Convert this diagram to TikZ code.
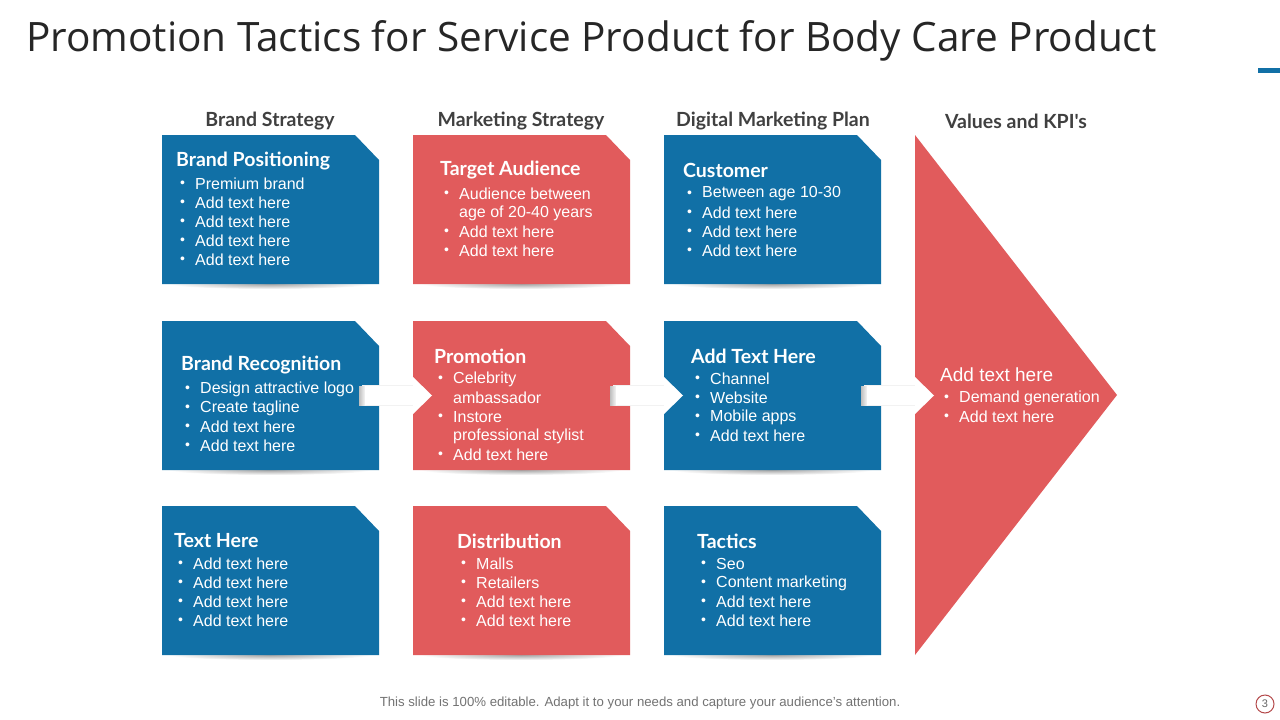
\documentclass[tikz,border=0pt]{standalone}
\usepackage{fontspec}
\setmainfont{Liberation Sans}
\newfontfamily\headfont{Lato}
\newfontfamily\titlefont{Open Sans}
\definecolor{blueC}{RGB}{17,112,166}
\definecolor{redC}{RGB}{225,91,92}
\definecolor{hdgray}{RGB}{64,64,64}
\tikzset{
  ttl/.style={font=\headfont\bfseries\fontsize{19.5}{19.5}\selectfont, text=white, anchor=west, inner sep=0pt},
  itm/.style={font=\fontsize{16}{16}\selectfont, text=white, anchor=west, inner sep=0pt},
  bul/.style={font=\fontsize{14}{14}\selectfont, text=white, anchor=west, inner sep=0pt},
  colhead/.style={font=\headfont\bfseries\fontsize{19.5}{19.5}\selectfont, text=hdgray, inner sep=0pt},
  conn/.style={fill=white, draw=none},
}
\newcommand\cardshape[3]{%
  \shade[inner color=black!35, outer color=white] (#1+108,#2+149) ellipse [x radius=100, y radius=5];
  \fill[#3] (#1,#2) -- (#1+193,#2) -- (#1+217,#2+25) -- (#1+217,#2+149) -- (#1,#2+149) -- cycle;}
\newcommand\bitem[4]{%
  \node[bul] (#1b) at (#2,#3) {•};
  \node[itm] (#1) at (#2+15,#3) {#4};}
\newcommand\citem[4]{\node[itm] (#1) at (#2+15,#3) {#4};}
\newcommand\connector[2]{%
  \fill[black!5] (#1,#2-10.5) rectangle (#1+52,#2+10.5);
  \shade[left color=black!25, right color=white] (#1-3,#2-9.5) rectangle (#1+4,#2+9.5);
  \fill[conn] (#1+3,#2-9.5) rectangle (#1+52,#2+9.5);
  \fill[conn] (#1+51,#2-18.5) -- (#1+70,#2) -- (#1+51,#2+18.5) -- cycle;}
\begin{document}
\begin{tikzpicture}[x=1pt,y=-1pt]
\useasboundingbox[fill=white] (0,0) rectangle (1280,720);
% title
\node[font=\titlefont\fontsize{40.5}{40.5}\selectfont, text=black!85, anchor=west, inner sep=0pt] (title) at (26,41) {Promotion Tactics for Service Product for Body Care Product};
\fill[blueC] (1258,68) rectangle (1280,73);
% column headings
\node[colhead] (h1) at (270,121) {Brand Strategy};
\node[colhead] (h2) at (521,121) {Marketing Strategy};
\node[colhead] (h3) at (773,121) {Digital Marketing Plan};
\node[colhead] (h4) at (1016,121) {Values and KPI's};
% cards
\cardshape{162}{135}{blueC}
\cardshape{413}{135}{redC}
\cardshape{664}{135}{blueC}
\cardshape{162}{321}{blueC}
\cardshape{413}{321}{redC}
\cardshape{664}{321}{blueC}
\cardshape{162}{506}{blueC}
\cardshape{413}{506}{redC}
\cardshape{664}{506}{blueC}
% big arrow
\fill[redC] (915,135) -- (1117,395) -- (915,655) -- cycle;
% connectors
\connector{362}{395.5}
\connector{613}{395.5}
\connector{864}{395.5}
% card 1
\node[ttl] (t1) at (176,161) {Brand Positioning};
\bitem{a1}{180}{184}{Premium brand}
\bitem{a2}{180}{203}{Add text here}
\bitem{a3}{180}{222}{Add text here}
\bitem{a4}{180}{241}{Add text here}
\bitem{a5}{180}{260}{Add text here}
% card 2
\node[ttl] (t2) at (440,170) {Target Audience};
\bitem{b1}{444}{194}{Audience between}
\citem{b2}{444}{213}{age of 20-40 years}
\bitem{b3}{444}{232}{Add text here}
\bitem{b4}{444}{251}{Add text here}
% card 3
\node[ttl] (t3) at (683,170) {Customer};
\bitem{c1}{687}{194}{Between age 10-30}
\bitem{c2}{687}{213}{Add text here}
\bitem{c3}{687}{232}{Add text here}
\bitem{c4}{687}{251}{Add text here}
% card 4
\node[ttl] (t4) at (181,365) {Brand Recognition};
\bitem{d1}{185}{389}{Design attractive logo}
\bitem{d2}{185}{408}{Create tagline}
\bitem{d3}{185}{427}{Add text here}
\bitem{d4}{185}{446}{Add text here}
% card 5
\node[ttl] (t5) at (434,356) {Promotion};
\bitem{e1}{438}{379}{Celebrity}
\citem{e2}{438}{398}{ambassador}
\bitem{e3}{438}{417}{Instore}
\citem{e4}{438}{436}{professional stylist}
\bitem{e5}{438}{455}{Add text here}
% card 6
\node[ttl] (t6) at (691,356) {Add Text Here};
\bitem{f1}{695}{379}{Channel}
\bitem{f2}{695}{398}{Website}
\bitem{f3}{695}{417}{Mobile apps}
\bitem{f4}{695}{436}{Add text here}
% card 7
\node[ttl] (t7) at (174,541) {Text Here};
\bitem{g1}{178}{564}{Add text here}
\bitem{g2}{178}{583}{Add text here}
\bitem{g3}{178}{602}{Add text here}
\bitem{g4}{178}{621}{Add text here}
% card 8
\node[ttl] (t8) at (457,541) {Distribution};
\bitem{k1}{461}{564}{Malls}
\bitem{k2}{461}{583}{Retailers}
\bitem{k3}{461}{602}{Add text here}
\bitem{k4}{461}{621}{Add text here}
% card 9
\node[ttl] (t9) at (697,541) {Tactics};
\bitem{m1}{701}{564}{Seo}
\bitem{m2}{701}{583}{Content marketing}
\bitem{m3}{701}{602}{Add text here}
\bitem{m4}{701}{621}{Add text here}
% big arrow text
\node[itm, font=\fontsize{19}{19}\selectfont] (t10) at (940,375) {Add text here};
\bitem{n1}{944}{398}{Demand generation}
\bitem{n2}{944}{417}{Add text here}
% footer
\node[font=\fontsize{13.2}{13.2}\selectfont, text=black!55, inner sep=0pt] (foot) at (640,703) {This slide is 100\% editable. Adapt it to your needs and capture your audience's attention.};
\node[draw=redC!80!black, line width=1pt, circle, minimum size=18pt, inner sep=0pt, font=\fontsize{11}{11}\selectfont, text=black!60] (pg) at (1265,704) {3};
\end{tikzpicture}
\end{document}
